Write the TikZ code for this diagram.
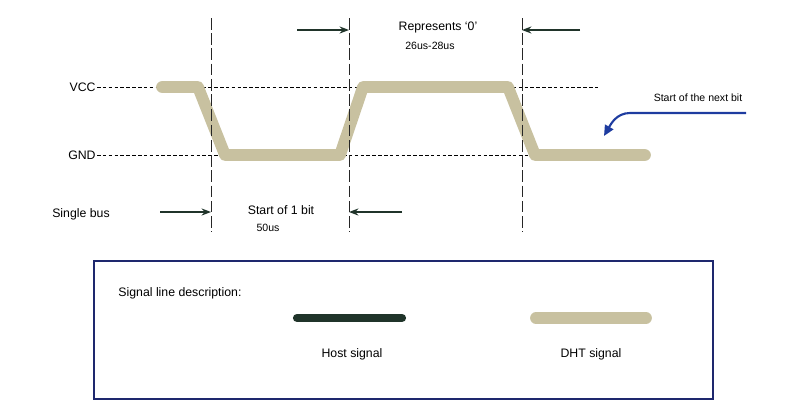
\documentclass[tikz,border=0pt]{standalone}
\usepackage{fontspec}
\setmainfont{Liberation Sans}
\usetikzlibrary{arrows.meta, positioning}
\definecolor{dhttan}{RGB}{200,193,160}
\definecolor{hostdark}{RGB}{32,52,42}
\definecolor{framebl}{RGB}{30,40,110}
\definecolor{notebl}{RGB}{30,60,160}

\begin{document}
\begin{tikzpicture}[
    x=0.03cm, y=-0.03cm,
    lbl/.style={font=\fontsize{10.5}{12}\selectfont, inner sep=1pt},
    sml/.style={font=\fontsize{9}{10}\selectfont, inner sep=1pt},
    level/.style={densely dashed, line width=0.6pt},
    mark line/.style={dash pattern=on 10pt off 3pt, line width=0.6pt, gray!30!black},
    dht/.style={line width=10pt, dhttan, line cap=round, line join=round},
    host/.style={line width=2.5pt, hostdark, -{Stealth[length=8pt, width=6pt]}},
    hostbar/.style={line width=7pt, hostdark, line cap=round}
]
\useasboundingbox (0,0) rectangle (800,413);

% Levels
\node[lbl, anchor=east] (vcc) at (97,87) {VCC};
\node[lbl, anchor=east] (gnd) at (97,155) {GND};
\coordinate (vccend) at (600,87);
\coordinate (gndend) at (600,155);
\draw[level] (vcc.east) -- (vccend);
\draw[level] (gnd.east) -- (gndend);

% DHT waveform
\coordinate (w0) at (162,87);
\coordinate (w1) at (198,87);
\coordinate (w2) at (225,155);
\coordinate (w3) at (340,155);
\coordinate (w4) at (363,87);
\coordinate (w5) at (508,87);
\coordinate (w6) at (535,155);
\coordinate (w7) at (645,155);
\draw[dht] (w0) -- (w1) -- (w2) -- (w3) -- (w4) -- (w5) -- (w6) -- (w7);

% Timing marks
\foreach \name/\x in {ma/211, mb/349, mc/522} {
  \coordinate (\name-top) at (\x,18);
  \coordinate (\name-bot) at (\x,232);
  \draw[mark line] (\name-top) -- (\name-bot);
}

% Host arrows
\coordinate (ha) at (297,30);
\coordinate (hb) at (580,30);
\coordinate (hc) at (160,212);
\coordinate (hd) at (402,212);
\draw[host] (ha) -- (mb-top |- ha);
\draw[host] (hb) -- (mc-top |- hb);
\draw[host] (hc) -- (ma-top |- hc);
\draw[host] (hd) -- (mb-top |- hd);

% Labels
\node[lbl] (zero) at (438,27) {Represents ‘0’};
\node[sml] (zerot) at (430,46) {26us-28us};
\node[lbl] (start) at (281,210) {Start of 1 bit};
\node[sml] (startt) at (268,228) {50us};
\node[lbl] (bus) at (81,214) {Single bus};
\node[sml] (next) at (698,98) {Start of the next bit};
\coordinate (nexttip) at (604,136);
\draw[notebl, line width=1.8pt, -{Triangle[length=9pt, width=8pt]}]
  (746,113) -- (630,113) to[out=180, in=60] (nexttip);

% Legend
\node[draw=framebl, line width=1.6pt, minimum width=619*0.03cm, minimum height=138*0.03cm, anchor=north west, inner sep=0pt] (legend) at (93,260) {};
\node[lbl, anchor=west] (desc) at (117,293) {Signal line description:};
\coordinate (hl0) at (297,318);
\coordinate (hl1) at (402,318);
\draw[hostbar] (hl0) -- (hl1);
\coordinate (dl0) at (536,318);
\coordinate (dl1) at (646,318);
\draw[dht] (dl0) -- (dl1);
\node[lbl] (hostlbl) at (352,354) {Host signal};
\node[lbl] (dhtlbl) at (591,354) {DHT signal};
\end{tikzpicture}
\end{document}
